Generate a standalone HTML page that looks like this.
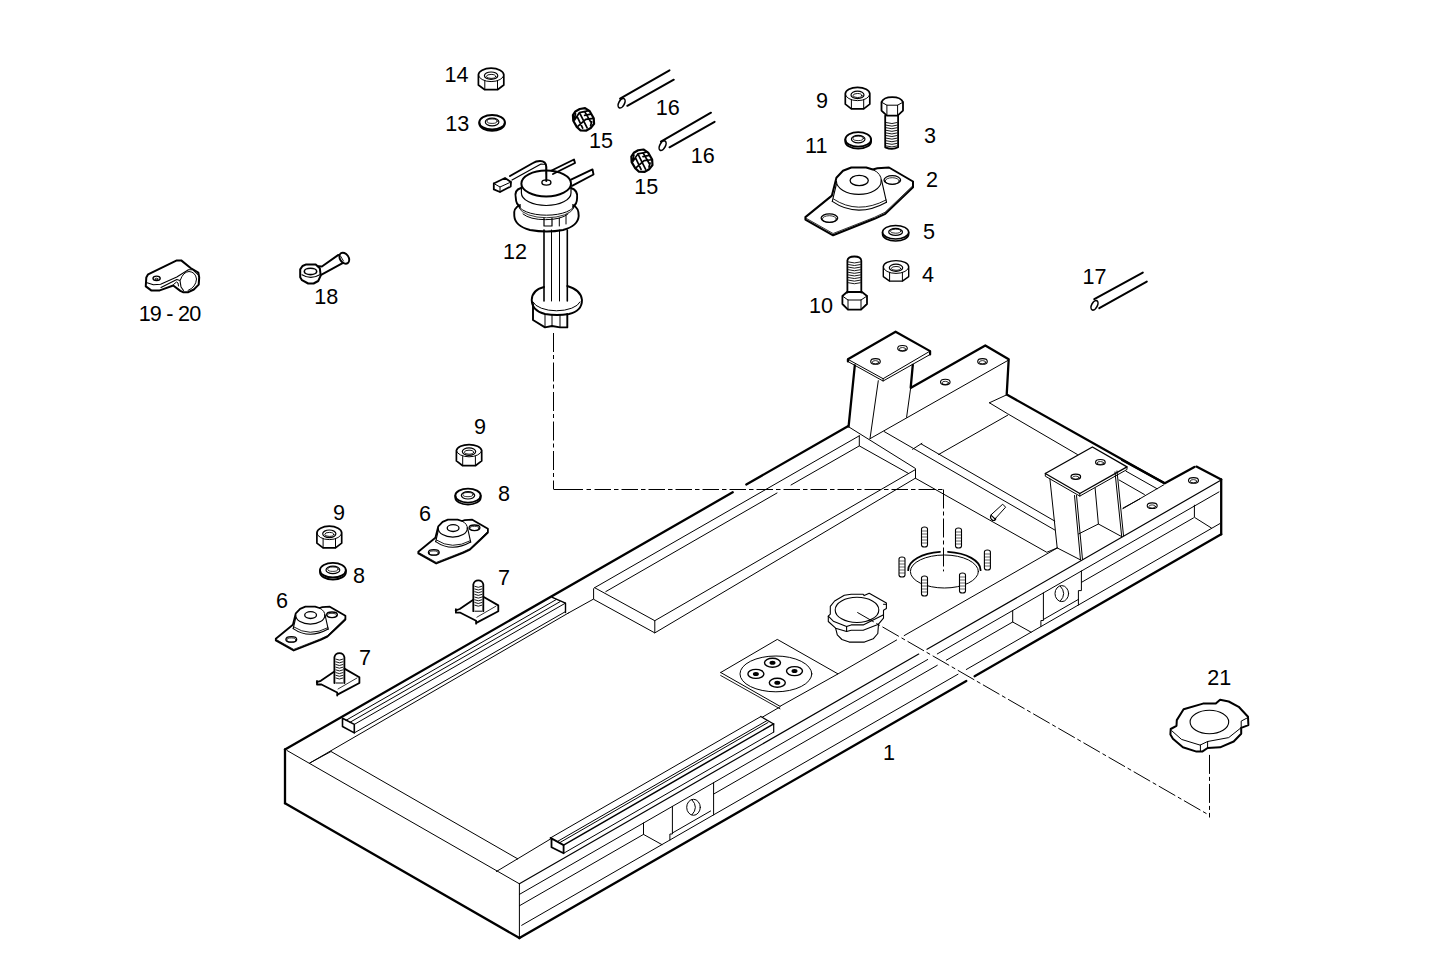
<!DOCTYPE html>
<html><head><meta charset="utf-8"><style>
html,body{margin:0;padding:0;background:#fff;}
svg{display:block;}
text{font-family:"Liberation Sans",sans-serif;font-size:21.6px;fill:#000;stroke:none;}
</style></head><body>
<svg width="1450" height="978" viewBox="0 0 1450 978">
<g fill="none" stroke="#000" stroke-linecap="round" stroke-linejoin="round">
<text x="456.5" y="81.7" text-anchor="middle">14</text>
<text x="457.2" y="130.6" text-anchor="middle">13</text>
<text x="667.7" y="115.4" text-anchor="middle">16</text>
<text x="702.8" y="162.6" text-anchor="middle">16</text>
<text x="601.1" y="147.6" text-anchor="middle">15</text>
<text x="646.2" y="194.1" text-anchor="middle">15</text>
<text x="514.9" y="258.6" text-anchor="middle">12</text>
<text x="822.0" y="108.4" text-anchor="middle">9</text>
<text x="930.0" y="142.8" text-anchor="middle">3</text>
<text x="816.2" y="152.6" text-anchor="middle">11</text>
<text x="932.0" y="187.4" text-anchor="middle">2</text>
<text x="929.1" y="238.9" text-anchor="middle">5</text>
<text x="927.9" y="281.5" text-anchor="middle">4</text>
<text x="821.1" y="312.6" text-anchor="middle">10</text>
<text x="1094.5" y="283.5" text-anchor="middle">17</text>
<text x="169.9" y="321.0" text-anchor="middle" textLength="62.5" lengthAdjust="spacing">19 - 20</text>
<text x="326.2" y="304.1" text-anchor="middle">18</text>
<text x="480.1" y="433.5" text-anchor="middle">9</text>
<text x="504.0" y="501.2" text-anchor="middle">8</text>
<text x="425.1" y="521.3" text-anchor="middle">6</text>
<text x="339.1" y="520.4" text-anchor="middle">9</text>
<text x="359.1" y="583.2" text-anchor="middle">8</text>
<text x="503.9" y="585.4" text-anchor="middle">7</text>
<text x="281.9" y="608.2" text-anchor="middle">6</text>
<text x="365.0" y="665.4" text-anchor="middle">7</text>
<text x="1219.2" y="684.6" text-anchor="middle">21</text>
<text x="889.0" y="759.6" text-anchor="middle">1</text>
<path d="M285.0 749.5 L732.7 492.3" stroke-width="2.3"/>
<path d="M746.3 484.5 L847.9 426.3" stroke-width="2.3"/>
<path d="M285.0 749.5 L285.0 803.3" stroke-width="2.3"/>
<path d="M285.0 803.3 L519.4 938.1" stroke-width="2.3"/>
<path d="M287.0 750.5 L519.4 883.8" stroke-width="1.0"/>
<path d="M519.4 883.8 L519.4 938.1" stroke-width="1.0"/>
<path d="M519.4 938.1 L966.3 681.0" stroke-width="2.3"/>
<path d="M974.6 676.2 L1221.2 534.3" stroke-width="2.3"/>
<path d="M519.4 883.8 L918.7 654.1" stroke-width="1.2"/>
<path d="M927.0 649.3 L1221.2 480.0" stroke-width="1.2"/>
<path d="M519.4 894.4 L927.7 659.5" stroke-width="1.0"/>
<path d="M937.3 653.9 L1219.0 491.9" stroke-width="1.0"/>
<path d="M519.4 905.8 L643.5 834.4" stroke-width="1.0"/>
<path d="M713.6 794.1 L937.3 665.3" stroke-width="1.0"/>
<path d="M946.3 660.2 L1012.7 622.0" stroke-width="1.0"/>
<path d="M1081.4 582.4 L1193.5 517.9" stroke-width="1.0"/>
<path d="M521.7 925.3 L958.0 674.2" stroke-width="1.0"/>
<path d="M966.3 669.5 L1219.7 523.7" stroke-width="1.0"/>
<path d="M1221.2 479.4 L1221.2 534.3" stroke-width="2.3"/>
<path d="M1122.1 460.0 L1164.8 483.3 L1194.4 467.0" stroke-width="2.3"/>
<path d="M1196.4 466.6 L1221.2 479.4" stroke-width="2.3"/>
<path d="M1194.4 505.2 L1194.4 517.3 L1211.4 528.0" stroke-width="1.0"/>
<path d="M643.5 823.0 L643.5 834.4 L661.9 844.6" stroke-width="1.0"/>
<path d="M672.4 806.4 L672.4 834.0 L669.9 834.0 L669.9 840.0" stroke-width="1.0"/>
<path d="M672.4 833.0 L710.6 811.0" stroke-width="1.0"/>
<path d="M713.6 782.7 L713.6 814.9" stroke-width="1.0"/>
<ellipse cx="693.5" cy="807.3" rx="6.8" ry="8.0" stroke-width="1.0"/>
<path d="M 692.0 799.8 Q 699.0 807.3 692.0 814.8" stroke-width="1.0"/>
<path d="M1012.7 610.6 L1012.7 622.0 L1031.1 632.2" stroke-width="1.0"/>
<path d="M1043.4 592.9 L1043.4 620.5 L1040.9 620.5 L1040.9 626.5" stroke-width="1.0"/>
<path d="M1043.4 619.5 L1078.4 599.4" stroke-width="1.0"/>
<path d="M1081.4 571.0 L1081.4 590.6 L1078.4 590.6 L1078.4 605.0" stroke-width="1.0"/>
<ellipse cx="1061.8" cy="593.6" rx="6.8" ry="8.0" stroke-width="1.0"/>
<path d="M 1060.3 586.1 Q 1067.3 593.6 1060.3 601.1" stroke-width="1.0"/>
<path d="M309.8 763.0 L331.0 751.5" stroke-width="1.0"/>
<path d="M331.0 751.5 L517.6 858.8" stroke-width="1.0"/>
<path d="M496.4 871.5 L517.6 858.8" stroke-width="1.0"/>
<path d="M517.6 858.8 L551.0 838.7" stroke-width="1.0"/>
<path d="M838.0 673.9 L896.6 640.0" stroke-width="1.0"/>
<path d="M904.2 635.6 L1056.9 548.2" stroke-width="1.0"/>
<path d="M309.8 763.0 L568.4 613.0" stroke-width="1.0"/>
<path d="M568.4 613.0 L593.1 599.3" stroke-width="1.0"/>
<path d="M342.5 718.3 L354.3 724.4 L354.3 732.9 L342.5 726.5 L342.5 718.3" stroke-width="1.6"/>
<path d="M552.3 597.4 L565.5 603.2 L565.5 612.5" stroke-width="1.4"/>
<path d="M354.3 724.4 L565.5 603.1" stroke-width="1.0"/>
<path d="M354.3 732.9 L565.5 611.6" stroke-width="1.0"/>
<path d="M346.0 720.3 L556.0 599.7" stroke-width="1.0"/>
<path d="M350.0 722.3 L560.0 601.7" stroke-width="1.0"/>
<path d="M550.5 837.9 L563.6 845.1 L563.6 853.3 L551.5 847.2 L551.5 838.5" stroke-width="1.8"/>
<path d="M550.5 837.9 L760.8 716.6" stroke-width="1.0"/>
<path d="M563.6 845.1 L773.7 723.9" stroke-width="1.5"/>
<path d="M563.6 853.3 L773.7 732.1" stroke-width="1.0"/>
<path d="M557.9 841.2 L766.6 720.8" stroke-width="1.0"/>
<path d="M559.5 842.8 L768.0 722.5" stroke-width="1.0"/>
<path d="M760.8 716.5 L773.7 723.9 L773.7 732.1" stroke-width="1.2"/>
<path d="M594.6 587.7 L654.8 620.7 L654.8 632.9 L593.6 599.3 L593.6 588.7" stroke-width="1.0"/>
<path d="M594.6 587.7 L859.3 435.8" stroke-width="1.0"/>
<path d="M848.3 426.6 L915.5 468.5 L915.5 478.3" stroke-width="1.0"/>
<path d="M859.3 435.8 L859.3 445.9 L908.6 473.5" stroke-width="1.0"/>
<path d="M654.8 620.7 L915.2 469.7" stroke-width="1.0"/>
<path d="M654.8 632.9 L915.2 478.3" stroke-width="1.0"/>
<path d="M605.8 591.6 L777.0 493.0" stroke-width="1.0"/>
<path d="M791.0 485.0 L859.3 445.9" stroke-width="1.0"/>
<path d="M847.9 361.5 L847.9 359.3 L895.6 331.7 L930.1 351.1 L930.1 354.5" stroke-width="2.2"/>
<path d="M847.9 359.3 L883.1 378.7 L930.1 351.1" stroke-width="1.0"/>
<path d="M847.9 361.5 L883.1 381.0 L930.1 354.5" stroke-width="1.0"/>
<path d="M883.1 378.7 L883.1 381.0" stroke-width="1.0"/>
<ellipse cx="875.5" cy="361.4" rx="4.8" ry="2.8" stroke-width="1.1"/>
<ellipse cx="875.5" cy="362.2" rx="3.2" ry="1.6" stroke-width="0.8"/>
<ellipse cx="902.5" cy="348.3" rx="4.8" ry="2.8" stroke-width="1.1"/>
<ellipse cx="902.5" cy="349.1" rx="3.2" ry="1.6" stroke-width="0.8"/>
<path d="M854.8 365.5 L848.6 426.3" stroke-width="2.3"/>
<path d="M878.3 380.7 L870.0 438.7" stroke-width="1.0"/>
<path d="M912.8 364.9 L910.7 387.6" stroke-width="2.3"/>
<path d="M910.7 387.6 L906.6 417.3" stroke-width="1.0"/>
<path d="M911.4 387.6 L985.3 345.5 L1008.7 359.3 L1006.7 394.5 L1164.0 482.9" stroke-width="2.3"/>
<path d="M1008.7 360.0 L870.0 438.7" stroke-width="1.0"/>
<ellipse cx="945.3" cy="382.1" rx="4.8" ry="2.8" stroke-width="1.1"/>
<ellipse cx="945.3" cy="382.9" rx="3.2" ry="1.6" stroke-width="0.8"/>
<ellipse cx="982.5" cy="361.4" rx="4.8" ry="2.8" stroke-width="1.1"/>
<ellipse cx="982.5" cy="362.2" rx="3.2" ry="1.6" stroke-width="0.8"/>
<path d="M989.4 402.8 L1007.4 394.5" stroke-width="1.0"/>
<path d="M989.4 402.8 L1007.7 413.8 L1077.4 454.5" stroke-width="1.0"/>
<path d="M938.6 454.5 L1007.7 415.2" stroke-width="1.0"/>
<path d="M1045.3 473.5 L1092.4 447.0 L1127.0 466.9 L1079.8 493.5 L1045.3 473.5" stroke-width="1.3"/>
<path d="M1045.3 473.5 L1045.3 476.2 L1079.8 496.1 L1127.0 469.5 L1127.0 466.9" stroke-width="1.0"/>
<path d="M1079.8 493.5 L1079.8 496.1" stroke-width="1.0"/>
<ellipse cx="1075.8" cy="476.8" rx="4.8" ry="2.7" stroke-width="1.2"/>
<ellipse cx="1075.8" cy="477.6" rx="3.2" ry="1.5" stroke-width="0.8"/>
<ellipse cx="1100.4" cy="462.2" rx="4.8" ry="2.7" stroke-width="1.2"/>
<ellipse cx="1100.4" cy="463.0" rx="3.2" ry="1.5" stroke-width="0.8"/>
<path d="M1049.9 478.8 L1057.2 547.9" stroke-width="1.0"/>
<path d="M1074.5 495.5 L1080.5 559.9" stroke-width="1.0"/>
<path d="M1076.5 495.5 L1082.5 559.5" stroke-width="1.0"/>
<path d="M1095.1 488.1 L1098.4 524.0" stroke-width="1.0"/>
<path d="M1115.0 472.0 L1121.7 536.6" stroke-width="1.0"/>
<path d="M1117.0 471.0 L1123.5 535.6" stroke-width="1.0"/>
<path d="M1057.2 547.9 L1080.5 559.9" stroke-width="1.0"/>
<path d="M1078.5 534.0 L1098.4 524.0 L1121.7 536.6" stroke-width="1.0"/>
<path d="M1123.0 508.1 L1140.0 498.8" stroke-width="1.0"/>
<path d="M921.3 444.0 L1054.8 521.1" stroke-width="1.0"/>
<path d="M884.2 431.6 L1054.8 530.0" stroke-width="1.0"/>
<path d="M912.6 449.3 L921.9 443.3" stroke-width="1.0"/>
<path d="M915.9 478.5 L1046.8 552.3 L1057.2 547.9" stroke-width="1.0"/>
<path d="M 991.3 514.6 L 1002.7 504.2 L 1005.6 507.2 L 995.6 518.3" stroke-width="1.0"/>
<path d="M 991.3 514.6 Q 989.5 517 991.5 519.5 Q 993.5 521.5 995.6 519.5 Q 996 518.5 995.6 518.3 M 991.8 515.8 L 995 519" stroke-width="1.1"/>
<path d="M1123.0 508.6 L1163.8 484.8" stroke-width="1.0"/>
<path d="M1119.1 480.0 L1144.4 494.5" stroke-width="1.0"/>
<path d="M1126.0 471.2 L1157.0 488.7" stroke-width="1.0"/>
<ellipse cx="1193.5" cy="480.4" rx="5.0" ry="2.8" stroke-width="1.1"/>
<ellipse cx="1193.5" cy="481.2" rx="3.3" ry="1.6" stroke-width="0.8"/>
<ellipse cx="1152.2" cy="505.7" rx="5.0" ry="2.8" stroke-width="1.1"/>
<ellipse cx="1152.2" cy="506.5" rx="3.3" ry="1.6" stroke-width="0.8"/>
<path d="M720.7 672.5 L777.3 639.4 L838.0 673.9 L780.0 706.3 L720.7 672.5" stroke-width="1.0"/>
<path d="M720.7 675.5 L780.0 708.8" stroke-width="0.9"/>
<path d="M762.3 717.2 L780.2 706.8" stroke-width="1.0"/>
<ellipse cx="775.9" cy="673.9" rx="35.9" ry="17.9" stroke-width="1.0"/>
<ellipse cx="772.5" cy="662.8" rx="8.0" ry="4.5" stroke-width="1.4"/>
<ellipse cx="772.5" cy="662.8" rx="3.0" ry="2.0" stroke-width="0" fill="#000"/>
<ellipse cx="755.9" cy="673.9" rx="8.0" ry="4.5" stroke-width="1.4"/>
<ellipse cx="755.9" cy="673.9" rx="3.0" ry="2.0" stroke-width="0" fill="#000"/>
<ellipse cx="794.5" cy="671.1" rx="8.0" ry="4.5" stroke-width="1.4"/>
<ellipse cx="794.5" cy="671.1" rx="3.0" ry="2.0" stroke-width="0" fill="#000"/>
<ellipse cx="777.3" cy="682.8" rx="8.0" ry="4.5" stroke-width="1.4"/>
<ellipse cx="777.3" cy="682.8" rx="3.0" ry="2.0" stroke-width="0" fill="#000"/>
<path d="M828.3 616.2 L830.3 614.2 L830.3 606.3 L834.6 601.0 L844.3 595.3 L851.2 594.3 L863.2 594.3 L864.2 595.6 L869.2 593.3 L886.4 602.9 L886.4 608.6 L883.5 610.2 L883.5 618.2 L878.5 624.2" stroke-width="1.1"/>
<path d="M828.3 616.2 L828.3 621.5 L835.6 628.2 L846.6 631.5 L851.2 630.2 L863.2 630.2 L878.5 624.2" stroke-width="1.1"/>
<path d="M828.3 616.2 L833.3 621.2 L846.6 626.5 L851.2 624.9 L863.2 624.9 L883.1 614.9" stroke-width="1.1"/>
<path d="M846.6 626.5 L846.6 631.5" stroke-width="1.1"/>
<path d="M883.5 604.3 L886.4 604.3" stroke-width="1.0"/>
<ellipse cx="857.0" cy="609.9" rx="21.8" ry="12.6" stroke-width="1.1"/>
<path d="M835.6 628.2 L837.3 634.8 L841.9 639.5 L849.2 642.1 L864.5 642.1 L873.2 638.8 L877.8 633.5 L878.5 624.2" stroke-width="1.1"/>
<path d="M 908.2 570.2 A 36.2 18.4 0 0 1 940 551.9" stroke-width="1.8"/>
<path d="M 948 551.9 A 36.2 18.4 0 0 1 980.6 570.2" stroke-width="1.8"/>
<ellipse cx="944.4" cy="571.5" rx="34.0" ry="16.5" stroke-width="1.0"/>
<path d="M 921.5 545.0 L 921.5 529.0 Q 921.5 527.0 924.5 527.0 Q 927.5 527.0 927.5 529.0 L 927.5 545.0 Q 927.5 547.0 924.5 547.0 Q 921.5 547.0 921.5 545.0 Z" stroke-width="1.1" fill="#fff"/>
<path d="M922.0 531.0 L927.0 531.0" stroke-width="0.6"/>
<path d="M922.0 534.0 L927.0 534.0" stroke-width="0.6"/>
<path d="M922.0 537.0 L927.0 537.0" stroke-width="0.6"/>
<path d="M922.0 540.0 L927.0 540.0" stroke-width="0.6"/>
<path d="M922.0 543.0 L927.0 543.0" stroke-width="0.6"/>
<path d="M 955.5 546.0 L 955.5 530.0 Q 955.5 528.0 958.5 528.0 Q 961.5 528.0 961.5 530.0 L 961.5 546.0 Q 961.5 548.0 958.5 548.0 Q 955.5 548.0 955.5 546.0 Z" stroke-width="1.1" fill="#fff"/>
<path d="M956.0 532.0 L961.0 532.0" stroke-width="0.6"/>
<path d="M956.0 535.0 L961.0 535.0" stroke-width="0.6"/>
<path d="M956.0 538.0 L961.0 538.0" stroke-width="0.6"/>
<path d="M956.0 541.0 L961.0 541.0" stroke-width="0.6"/>
<path d="M956.0 544.0 L961.0 544.0" stroke-width="0.6"/>
<path d="M 984.4 568.0 L 984.4 552.0 Q 984.4 550.0 987.4 550.0 Q 990.4 550.0 990.4 552.0 L 990.4 568.0 Q 990.4 570.0 987.4 570.0 Q 984.4 570.0 984.4 568.0 Z" stroke-width="1.1" fill="#fff"/>
<path d="M984.9 554.0 L989.9 554.0" stroke-width="0.6"/>
<path d="M984.9 557.0 L989.9 557.0" stroke-width="0.6"/>
<path d="M984.9 560.0 L989.9 560.0" stroke-width="0.6"/>
<path d="M984.9 563.0 L989.9 563.0" stroke-width="0.6"/>
<path d="M984.9 566.0 L989.9 566.0" stroke-width="0.6"/>
<path d="M 899.0 575.0 L 899.0 559.0 Q 899.0 557.0 902.0 557.0 Q 905.0 557.0 905.0 559.0 L 905.0 575.0 Q 905.0 577.0 902.0 577.0 Q 899.0 577.0 899.0 575.0 Z" stroke-width="1.1" fill="#fff"/>
<path d="M899.5 561.0 L904.5 561.0" stroke-width="0.6"/>
<path d="M899.5 564.0 L904.5 564.0" stroke-width="0.6"/>
<path d="M899.5 567.0 L904.5 567.0" stroke-width="0.6"/>
<path d="M899.5 570.0 L904.5 570.0" stroke-width="0.6"/>
<path d="M899.5 573.0 L904.5 573.0" stroke-width="0.6"/>
<path d="M 921.5 594.0 L 921.5 578.0 Q 921.5 576.0 924.5 576.0 Q 927.5 576.0 927.5 578.0 L 927.5 594.0 Q 927.5 596.0 924.5 596.0 Q 921.5 596.0 921.5 594.0 Z" stroke-width="1.1" fill="#fff"/>
<path d="M922.0 580.0 L927.0 580.0" stroke-width="0.6"/>
<path d="M922.0 583.0 L927.0 583.0" stroke-width="0.6"/>
<path d="M922.0 586.0 L927.0 586.0" stroke-width="0.6"/>
<path d="M922.0 589.0 L927.0 589.0" stroke-width="0.6"/>
<path d="M922.0 592.0 L927.0 592.0" stroke-width="0.6"/>
<path d="M 959.5 591.0 L 959.5 575.0 Q 959.5 573.0 962.5 573.0 Q 965.5 573.0 965.5 575.0 L 965.5 591.0 Q 965.5 593.0 962.5 593.0 Q 959.5 593.0 959.5 591.0 Z" stroke-width="1.1" fill="#fff"/>
<path d="M960.0 577.0 L965.0 577.0" stroke-width="0.6"/>
<path d="M960.0 580.0 L965.0 580.0" stroke-width="0.6"/>
<path d="M960.0 583.0 L965.0 583.0" stroke-width="0.6"/>
<path d="M960.0 586.0 L965.0 586.0" stroke-width="0.6"/>
<path d="M960.0 589.0 L965.0 589.0" stroke-width="0.6"/>
<path d="M 553.5 333 L 553.5 489.5" stroke-width="1.0" stroke-dasharray="19 3 4 3.5" stroke-linecap="butt"/>
<path d="M 554 489.5 L 943.5 489.5" stroke-width="1.0" stroke-dasharray="29 3.5 4.5 3.5 16.5 3 4.5 3 16.5 3 4.5 3 16.5 3 4.5 3 16.5 3 4.5 3 16.5 3 4.5 3 16.5 3 4.5 3 16.5 3 4.5 3 16.5 3 4.5 3 16.5 3 4.5 3 16.5 3 4.5 3 16.5 3 4.5 3 16.5 3 4.5 3 16.5 3 4.5 3 16.5 3 4.5 3 500" stroke-linecap="butt"/>
<path d="M 943.5 489.5 L 943.5 571.4" stroke-width="1.0" stroke-dasharray="19 3 4 3" stroke-linecap="butt"/>
<path d="M 857.3 612.4 L 1206.8 813.8" stroke-width="1.0" stroke-dasharray="19 3 4 3" stroke-linecap="butt"/>
<path d="M 1209.5 754.9 L 1209.5 817.5" stroke-width="1.0" stroke-dasharray="19 3 4 3" stroke-linecap="butt"/>
<path d="M1170.7 729.0 L1176.5 725.8 L1176.8 720.1 L1183.6 709.3 L1203.0 703.6 L1215.8 703.6 L1220.1 699.7 L1228.7 701.5 L1238.7 706.8 L1248.0 716.8 L1248.4 725.1 L1241.2 727.9 L1241.2 733.7 L1233.7 741.5 L1220.1 747.3 L1207.6 748.0 L1202.2 751.6 L1196.5 751.6 L1182.9 747.3 L1172.9 738.7 L1170.4 734.4 Z" stroke-width="2.0"/>
<path d="M1171.8 730.8 L1181.5 739.4 L1200.1 745.1 L1207.6 741.5 L1228.7 737.6 L1240.9 727.9" stroke-width="1.0"/>
<path d="M1200.4 745.1 L1200.4 751.6" stroke-width="1.0"/>
<path d="M1207.6 741.5 L1207.6 748.0" stroke-width="1.0"/>
<path d="M1241.2 727.9 L1241.2 721.1 L1247.3 717.9" stroke-width="1.0"/>
<ellipse cx="1209.4" cy="722.0" rx="19.3" ry="11.7" stroke-width="1.1"/>
<path d="M 478.4 74.9 A 12.7 6.7 0 0 1 503.8 74.9 L 503.8 85.0 L 497.5 89.7 L 484.8 89.7 L 478.4 85.0 Z" stroke-width="1.7"/>
<path d="M 478.4 74.9 A 12.7 6.7 0 0 0 503.8 74.9" stroke-width="1.0"/>
<path d="M484.8 80.6 L484.8 89.7" stroke-width="1.0"/>
<path d="M497.5 80.6 L497.5 89.7" stroke-width="1.0"/>
<ellipse cx="491.1" cy="75.7" rx="6.7" ry="3.7" stroke-width="1.2"/>
<ellipse cx="491.1" cy="76.4" rx="4.6" ry="2.0" stroke-width="0.9"/>
<ellipse cx="492.1" cy="122.2" rx="12.8" ry="7.2" stroke-width="1.8"/>
<path d="M 479.3 122.2 L 479.3 124.2 A 12.8 7.2 0 0 0 504.8 124.2 L 504.8 122.2" stroke-width="1.8"/>
<ellipse cx="492.1" cy="122.0" rx="6.8" ry="3.8" stroke-width="1.2"/>
<ellipse cx="492.1" cy="121.2" rx="5.1" ry="2.2" stroke-width="0.8"/>
<path d="M 456.4 450.7 A 12.7 6.7 0 0 1 481.7 450.7 L 481.7 460.9 L 475.4 465.7 L 462.7 465.7 L 456.4 460.9 Z" stroke-width="1.7"/>
<path d="M 456.4 450.7 A 12.7 6.7 0 0 0 481.7 450.7" stroke-width="1.0"/>
<path d="M462.7 456.5 L462.7 465.7" stroke-width="1.0"/>
<path d="M475.4 456.5 L475.4 465.7" stroke-width="1.0"/>
<ellipse cx="469.0" cy="451.6" rx="6.7" ry="3.8" stroke-width="1.2"/>
<ellipse cx="469.0" cy="452.2" rx="4.6" ry="2.0" stroke-width="0.9"/>
<ellipse cx="468.0" cy="495.6" rx="12.7" ry="7.0" stroke-width="1.8"/>
<path d="M 455.3 495.6 L 455.3 497.6 A 12.7 7.0 0 0 0 480.7 497.6 L 480.7 495.6" stroke-width="1.8"/>
<ellipse cx="468.0" cy="495.3" rx="6.7" ry="3.7" stroke-width="1.2"/>
<ellipse cx="468.0" cy="494.6" rx="5.1" ry="2.1" stroke-width="0.8"/>
<path d="M 316.9 532.9 A 12.4 6.7 0 0 1 341.7 532.9 L 341.7 543.1 L 335.5 547.9 L 323.1 547.9 L 316.9 543.1 Z" stroke-width="1.7"/>
<path d="M 316.9 532.9 A 12.4 6.7 0 0 0 341.7 532.9" stroke-width="1.0"/>
<path d="M323.1 538.7 L323.1 547.9" stroke-width="1.0"/>
<path d="M335.5 538.7 L335.5 547.9" stroke-width="1.0"/>
<ellipse cx="329.3" cy="533.8" rx="6.6" ry="3.8" stroke-width="1.2"/>
<ellipse cx="329.3" cy="534.4" rx="4.5" ry="2.0" stroke-width="0.9"/>
<ellipse cx="332.9" cy="570.2" rx="12.9" ry="7.3" stroke-width="1.8"/>
<path d="M 320.0 570.2 L 320.0 572.2 A 12.9 7.3 0 0 0 345.9 572.2 L 345.9 570.2" stroke-width="1.8"/>
<ellipse cx="332.9" cy="569.9" rx="6.9" ry="3.8" stroke-width="1.2"/>
<ellipse cx="332.9" cy="569.2" rx="5.2" ry="2.2" stroke-width="0.8"/>
<path d="M 845.3 94.0 A 12.2 6.6 0 0 1 869.8 94.0 L 869.8 104.1 L 863.7 108.8 L 851.4 108.8 L 845.3 104.1 Z" stroke-width="1.7"/>
<path d="M 845.3 94.0 A 12.2 6.6 0 0 0 869.8 94.0" stroke-width="1.0"/>
<path d="M851.4 99.7 L851.4 108.8" stroke-width="1.0"/>
<path d="M863.7 99.7 L863.7 108.8" stroke-width="1.0"/>
<ellipse cx="857.5" cy="94.9" rx="6.5" ry="3.7" stroke-width="1.2"/>
<ellipse cx="857.5" cy="95.5" rx="4.4" ry="2.0" stroke-width="0.9"/>
<ellipse cx="858.2" cy="139.4" rx="12.9" ry="7.3" stroke-width="1.8"/>
<path d="M 845.3 139.4 L 845.3 141.4 A 12.9 7.3 0 0 0 871.1 141.4 L 871.1 139.4" stroke-width="1.8"/>
<ellipse cx="858.2" cy="139.1" rx="6.8" ry="3.8" stroke-width="1.2"/>
<ellipse cx="858.2" cy="138.4" rx="5.2" ry="2.2" stroke-width="0.8"/>
<ellipse cx="895.6" cy="232.2" rx="13.1" ry="6.8" stroke-width="1.5"/>
<path d="M 882.5 232.2 L 882.5 234.2 A 13.1 6.8 0 0 0 908.7 234.2 L 908.7 232.2" stroke-width="1.5"/>
<ellipse cx="895.6" cy="231.9" rx="6.9" ry="3.5" stroke-width="1.2"/>
<ellipse cx="895.6" cy="231.2" rx="5.2" ry="2.0" stroke-width="0.8"/>
<path d="M 883.3 267.0 A 12.7 6.4 0 0 1 908.7 267.0 L 908.7 276.6 L 902.4 281.1 L 889.6 281.1 L 883.3 276.6 Z" stroke-width="1.4"/>
<path d="M 883.3 267.0 A 12.7 6.4 0 0 0 908.7 267.0" stroke-width="1.0"/>
<path d="M889.6 272.4 L889.6 281.1" stroke-width="1.0"/>
<path d="M902.4 272.4 L902.4 281.1" stroke-width="1.0"/>
<ellipse cx="896.0" cy="267.8" rx="6.7" ry="3.6" stroke-width="1.2"/>
<ellipse cx="896.0" cy="268.4" rx="4.6" ry="1.9" stroke-width="0.9"/>
<path d="M418.3 551.8 L435.4 537.8 L438.3 526.3 L442.6 521.8 L447.9 519.7 L457.6 519.7 L461.9 521.0 L464.8 520.2 L472.3 519.7 L487.9 528.7 L487.9 532.5 L480.1 540.0 L469.9 549.6 L463.0 552.9 L436.2 563.5 L418.3 553.4 Z" stroke-width="1.8"/>
<path d="M419.0 552.7 L436.2 562.4 L463.0 551.9 L469.8 548.7 L487.2 532.0" stroke-width="0.8"/>
<path d="M 438.3 528.4 A 14.5 8.7 0 0 0 467.3 528.4" stroke-width="1.1"/>
<path d="M 467.3 528.4 A 14.5 8.7 0 0 0 461.9 521.0" stroke-width="1.0"/>
<path d="M438.3 530.3 L435.7 541.6" stroke-width="1.1"/>
<path d="M467.5 527.7 L470.7 542.1" stroke-width="1.1"/>
<path d="M 435.7 541.6 Q 451.7 552.7 470.7 542.1" stroke-width="1.1"/>
<path d="M 436.4 540.0 Q 452.0 550.4 470.4 540.7" stroke-width="0.9"/>
<ellipse cx="453.1" cy="528.1" rx="5.9" ry="3.4" stroke-width="1.3"/>
<ellipse cx="474.5" cy="527.8" rx="5.4" ry="2.8" stroke-width="1.3"/>
<ellipse cx="474.5" cy="528.4" rx="4.5" ry="2.1" stroke-width="0.8"/>
<ellipse cx="433.8" cy="552.4" rx="5.4" ry="2.8" stroke-width="1.3"/>
<ellipse cx="433.8" cy="553.0" rx="4.5" ry="2.1" stroke-width="0.8"/>
<path d="M275.8 638.8 L292.9 624.8 L295.8 613.3 L300.1 608.8 L305.4 606.7 L315.1 606.7 L319.4 608.0 L322.3 607.2 L329.8 606.7 L345.4 615.7 L345.4 619.5 L337.6 627.0 L327.4 636.6 L320.5 639.9 L293.7 650.5 L275.8 640.4 Z" stroke-width="1.8"/>
<path d="M276.5 639.7 L293.7 649.4 L320.5 638.9 L327.3 635.7 L344.7 619.0" stroke-width="0.8"/>
<path d="M 295.8 615.4 A 14.5 8.7 0 0 0 324.8 615.4" stroke-width="1.1"/>
<path d="M 324.8 615.4 A 14.5 8.7 0 0 0 319.4 608.0" stroke-width="1.0"/>
<path d="M295.8 617.3 L293.2 628.6" stroke-width="1.1"/>
<path d="M325.0 614.7 L328.2 629.1" stroke-width="1.1"/>
<path d="M 293.2 628.6 Q 309.2 639.7 328.2 629.1" stroke-width="1.1"/>
<path d="M 293.9 627.0 Q 309.5 637.4 327.9 627.7" stroke-width="0.9"/>
<ellipse cx="310.6" cy="615.1" rx="5.9" ry="3.4" stroke-width="1.3"/>
<ellipse cx="332.0" cy="614.8" rx="5.4" ry="2.8" stroke-width="1.3"/>
<ellipse cx="332.0" cy="615.4" rx="4.5" ry="2.1" stroke-width="0.8"/>
<ellipse cx="291.3" cy="639.4" rx="5.4" ry="2.8" stroke-width="1.3"/>
<ellipse cx="291.3" cy="640.0" rx="4.5" ry="2.1" stroke-width="0.8"/>
<path d="M805.4 217.1 L831.9 195.6 L836.4 177.8 L843.0 170.8 L851.3 167.5 L866.2 167.5 L872.8 169.5 L877.4 168.3 L889.0 167.5 L913.0 181.5 L913.0 187.3 L901.0 198.9 L885.3 213.8 L874.5 218.8 L833.1 235.3 L805.4 219.6 Z" stroke-width="2.0"/>
<path d="M806.5 218.5 L833.1 233.5 L874.5 217.3 L885.0 212.3 L912.0 186.5" stroke-width="0.8"/>
<path d="M 836.4 181.0 A 22.4 13.4 0 0 0 881.2 181.0" stroke-width="1.1"/>
<path d="M 881.2 181.0 A 22.4 13.4 0 0 0 872.8 169.5" stroke-width="1.0"/>
<path d="M836.4 184.0 L832.3 201.4" stroke-width="1.1"/>
<path d="M881.5 179.9 L886.5 202.2" stroke-width="1.1"/>
<path d="M 832.3 201.4 Q 857.1 218.5 886.5 202.2" stroke-width="1.1"/>
<path d="M 833.5 199.0 Q 857.5 215.0 886.0 200.0" stroke-width="0.9"/>
<ellipse cx="859.2" cy="180.5" rx="9.1" ry="5.2" stroke-width="1.3"/>
<ellipse cx="892.3" cy="180.0" rx="8.3" ry="4.3" stroke-width="1.3"/>
<ellipse cx="892.3" cy="181.0" rx="7.0" ry="3.3" stroke-width="0.8"/>
<ellipse cx="829.4" cy="218.1" rx="8.3" ry="4.3" stroke-width="1.3"/>
<ellipse cx="829.4" cy="219.0" rx="7.0" ry="3.3" stroke-width="0.8"/>
<path d="M316.8 682.2 L320.8 680.8 L334.4 671.5" stroke-width="1.8"/>
<path d="M344.4 668.6 L359.4 677.2 L359.4 683.0 L337.9 694.4" stroke-width="1.8"/>
<path d="M317.0 681.0 L317.0 684.5 L321.5 684.5 L337.2 692.5 L337.2 695.5" stroke-width="1.8"/>
<path d="M338.0 689.0 L357.0 678.0" stroke-width="0.8"/>
<path d="M 334.4 683.0 L 334.4 657.2 Q 335.4 653.2 339.4 653.2 Q 343.4 653.2 344.4 657.2 L 344.4 683.0" stroke-width="1.8"/>
<path d="M 335.9 683.0 L 342.9 683.0" stroke-width="1.0"/>
<path d="M 335.9 659.2 Q 339.4 661.2 342.9 659.2" stroke-width="0.9"/>
<path d="M 335.9 661.9 Q 339.4 663.9 342.9 661.9" stroke-width="0.9"/>
<path d="M 335.9 664.6 Q 339.4 666.6 342.9 664.6" stroke-width="0.9"/>
<path d="M 335.9 667.3 Q 339.4 669.3 342.9 667.3" stroke-width="0.9"/>
<path d="M 335.9 670.0 Q 339.4 672.0 342.9 670.0" stroke-width="0.9"/>
<path d="M 335.9 672.7 Q 339.4 674.7 342.9 672.7" stroke-width="0.9"/>
<path d="M 335.9 675.4 Q 339.4 677.4 342.9 675.4" stroke-width="0.9"/>
<path d="M 335.9 678.1 Q 339.4 680.1 342.9 678.1" stroke-width="0.9"/>
<path d="M455.7 610.4 L459.7 609.0 L473.3 599.7" stroke-width="1.8"/>
<path d="M483.3 596.8 L498.3 605.4 L498.3 611.2 L476.8 622.6" stroke-width="1.8"/>
<path d="M455.9 609.2 L455.9 612.7 L460.4 612.7 L476.1 620.7 L476.1 623.7" stroke-width="1.8"/>
<path d="M476.9 617.2 L495.9 606.2" stroke-width="0.8"/>
<path d="M 473.3 611.2 L 473.3 584.4 Q 474.3 580.4 478.3 580.4 Q 482.3 580.4 483.3 584.4 L 483.3 611.2" stroke-width="1.8"/>
<path d="M 474.8 611.2 L 481.8 611.2" stroke-width="1.0"/>
<path d="M 474.8 586.4 Q 478.3 588.4 481.8 586.4" stroke-width="0.9"/>
<path d="M 474.8 589.1 Q 478.3 591.1 481.8 589.1" stroke-width="0.9"/>
<path d="M 474.8 591.8 Q 478.3 593.8 481.8 591.8" stroke-width="0.9"/>
<path d="M 474.8 594.5 Q 478.3 596.5 481.8 594.5" stroke-width="0.9"/>
<path d="M 474.8 597.2 Q 478.3 599.2 481.8 597.2" stroke-width="0.9"/>
<path d="M 474.8 599.9 Q 478.3 601.9 481.8 599.9" stroke-width="0.9"/>
<path d="M 474.8 602.6 Q 478.3 604.6 481.8 602.6" stroke-width="0.9"/>
<path d="M 474.8 605.3 Q 478.3 607.3 481.8 605.3" stroke-width="0.9"/>
<path d="M 881.5 102.2 Q 883.5 97.2 892.2 97.2 Q 901.0 97.2 903.0 102.2 L 903.0 110.6 L 897.6 115.6 L 886.9 115.6 L 881.5 110.6 Z" stroke-width="1.8"/>
<path d="M881.5 102.2 L886.9 105.2 L897.6 105.2 L903.0 102.2" stroke-width="1.0"/>
<path d="M886.9 105.2 L886.9 115.6" stroke-width="1.0"/>
<path d="M897.6 105.2 L897.6 115.6" stroke-width="1.0"/>
<path d="M 885.2 115.6 L 885.2 147.3 Q 892.2 150.3 898.1 147.3 L 898.1 115.6" stroke-width="1.8"/>
<path d="M 886.2 122.6 Q 892.2 124.6 897.1 122.6" stroke-width="0.9"/>
<path d="M 886.2 125.2 Q 892.2 127.2 897.1 125.2" stroke-width="0.9"/>
<path d="M 886.2 127.8 Q 892.2 129.8 897.1 127.8" stroke-width="0.9"/>
<path d="M 886.2 130.4 Q 892.2 132.4 897.1 130.4" stroke-width="0.9"/>
<path d="M 886.2 133.0 Q 892.2 135.0 897.1 133.0" stroke-width="0.9"/>
<path d="M 886.2 135.6 Q 892.2 137.6 897.1 135.6" stroke-width="0.9"/>
<path d="M 886.2 138.2 Q 892.2 140.2 897.1 138.2" stroke-width="0.9"/>
<path d="M 886.2 140.8 Q 892.2 142.8 897.1 140.8" stroke-width="0.9"/>
<path d="M 886.2 143.4 Q 892.2 145.4 897.1 143.4" stroke-width="0.9"/>
<path d="M 886.2 146.0 Q 892.2 148.0 897.1 146.0" stroke-width="0.9"/>
<path d="M 847.4 292.5 L 847.4 260.5 Q 848 256.5 854.4 256.5 Q 860.8 256.5 861.3 260.5 L 861.3 292.5" stroke-width="1.8"/>
<path d="M 848.5 262.0 Q 854.4 264.0 860.3 262.0" stroke-width="0.9"/>
<path d="M 848.5 264.6 Q 854.4 266.6 860.3 264.6" stroke-width="0.9"/>
<path d="M 848.5 267.2 Q 854.4 269.2 860.3 267.2" stroke-width="0.9"/>
<path d="M 848.5 269.8 Q 854.4 271.8 860.3 269.8" stroke-width="0.9"/>
<path d="M 848.5 272.4 Q 854.4 274.4 860.3 272.4" stroke-width="0.9"/>
<path d="M 848.5 275.0 Q 854.4 277.0 860.3 275.0" stroke-width="0.9"/>
<path d="M 848.5 277.6 Q 854.4 279.6 860.3 277.6" stroke-width="0.9"/>
<path d="M 848.5 280.2 Q 854.4 282.2 860.3 280.2" stroke-width="0.9"/>
<path d="M 848.5 282.8 Q 854.4 284.8 860.3 282.8" stroke-width="0.9"/>
<path d="M 842.4 296 L 847 292 L 862 292 L 867 296 L 867 304 L 861 309.7 L 848 309.7 L 842.4 304 Z" stroke-width="1.8"/>
<path d="M842.4 296.0 L848.0 300.0 L861.0 300.0 L867.0 296.0" stroke-width="1.0"/>
<path d="M848.0 300.0 L848.0 309.7" stroke-width="1.0"/>
<path d="M861.0 300.0 L861.0 309.7" stroke-width="1.0"/>
<path d="M620.1 98.6 L669.5 70.3" stroke-width="2.0"/>
<path d="M627.3 105.8 L673.8 79.7" stroke-width="2.0"/>
<ellipse cx="621.6" cy="103.2" rx="2.8" ry="5.2" transform="rotate(28 621.6 103.2)" stroke-width="1.6"/>
<path d="M660.9 141.6 L711.0 112.7" stroke-width="2.0"/>
<path d="M669.5 147.3 L714.6 121.8" stroke-width="2.0"/>
<ellipse cx="662.6" cy="145.6" rx="2.8" ry="5.2" transform="rotate(28 662.6 145.6)" stroke-width="1.6"/>
<path d="M1094.3 299.2 L1142.8 272.6" stroke-width="2.0"/>
<path d="M1099.3 308.2 L1146.8 281.6" stroke-width="2.0"/>
<ellipse cx="1094.5" cy="305.3" rx="2.8" ry="5.2" transform="rotate(28 1094.5 305.3)" stroke-width="1.6"/>
<g transform="translate(583.5 119.5) rotate(60)"><path d="M -11 -2 L -9 -7 L -4 -9.5 L 4 -9.5 L 9 -7 L 11 -2 L 11 3 L 8 8 L 3 9.5 L -4 9.5 L -9 7 L -11 3 Z" stroke-width="2.2"/><path d="M -5 -9 L -8 0 L -4 8 M 4 -9 L 1 -2 L 3 8 M -8 0 L 9 1 M -1 -9 L -3 -3 M 6 -6 L 9 -3 M -9 4 L -5 8 M -6 -5 L 6 -5 M -6 4 L 7 5" stroke-width="1.7"/></g>
<g transform="translate(641.9 160.8) rotate(60)"><path d="M -11 -2 L -9 -7 L -4 -9.5 L 4 -9.5 L 9 -7 L 11 -2 L 11 3 L 8 8 L 3 9.5 L -4 9.5 L -9 7 L -11 3 Z" stroke-width="2.2"/><path d="M -5 -9 L -8 0 L -4 8 M 4 -9 L 1 -2 L 3 8 M -8 0 L 9 1 M -1 -9 L -3 -3 M 6 -6 L 9 -3 M -9 4 L -5 8 M -6 -5 L 6 -5 M -6 4 L 7 5" stroke-width="1.7"/></g>
<ellipse cx="546.2" cy="183.5" rx="24.8" ry="13.0" stroke-width="1.9"/>
<path d="M 521.4 183.5 L 521.4 193 A 24.8 12.5 0 0 0 571 193 L 571 183.5" stroke-width="1.2"/>
<path d="M 521 188 Q 514 190 515.8 198 Q 516 204 520 207" stroke-width="1.9"/>
<path d="M 571 188 Q 578 190 577.1 198 Q 577 204 573 207" stroke-width="1.9"/>
<path d="M 520 205 Q 513 208 514.3 216 Q 515 226 530 230 Q 547 233 563 230 Q 578 226 578.7 216 Q 579 208 573 205" stroke-width="1.9"/>
<path d="M 518 204 A 28 11 0 0 0 575 204" stroke-width="1.0"/>
<path d="M 519 208 A 28 12 0 0 0 574 208" stroke-width="0.8"/>
<path d="M 523 214 A 25 10 0 0 0 568 214" stroke-width="1.0"/>
<path d="M544.0 218.0 L544.0 226.0 L552.0 226.0 L552.0 218.0" stroke-width="1.2"/>
<path d="M559.3 218.0 L559.3 226.0" stroke-width="1.0"/>
<path d="M566.0 215.0 L566.0 224.0" stroke-width="1.0"/>
<path d="M 546.3 181 L 546.3 167 Q 546 161 540 161 Q 536 161 533 163 L 510 176" stroke-width="2.0"/>
<path d="M 546.3 174 L 546.3 166 Q 546 164 541 164 L 512 180" stroke-width="1.2"/>
<ellipse cx="546.4" cy="182.5" rx="4.5" ry="2.6" stroke-width="1.4"/>
<path d="M493.8 183.5 L505.0 178.0 L511.0 182.0 L510.7 186.5 L500.0 192.0 L493.8 189.4 L493.8 183.5" stroke-width="1.8"/>
<path d="M493.8 183.5 L500.0 187.0 L511.0 182.0" stroke-width="1.0"/>
<path d="M500.0 187.0 L500.0 192.0" stroke-width="1.0"/>
<path d="M551.6 170.5 L574.0 159.5 L575.0 163.0 L553.0 174.0" stroke-width="1.9"/>
<path d="M571.0 179.7 L592.5 169.4 L593.5 174.5 L572.0 185.8" stroke-width="1.9"/>
<path d="M544.0 230.0 L544.0 301.0" stroke-width="1.6"/>
<path d="M551.5 230.0 L551.5 301.0" stroke-width="1.0"/>
<path d="M559.5 230.0 L559.5 301.0" stroke-width="1.0"/>
<path d="M567.3 230.0 L567.3 301.0" stroke-width="1.6"/>
<path d="M 544 287 Q 532 290 531.7 300 Q 532 311 545 314 Q 557 316 569 314 Q 582 311 582 300 Q 581 290 567.3 286" stroke-width="1.9"/>
<path d="M 533 302 A 24 11 0 0 0 580 302" stroke-width="1.0"/>
<path d="M 533 304 L 533 320 L 545 327.4 L 552 326 L 560 327.4 L 567.3 327.4 L 567.3 314" stroke-width="1.9"/>
<path d="M545.0 314.0 L545.0 327.0" stroke-width="1.0"/>
<path d="M552.0 315.0 L552.0 326.0" stroke-width="1.0"/>
<path d="M560.0 315.0 L560.0 327.0" stroke-width="1.0"/>
<path d="M145.8 285.5 L146.3 277.4 L148.1 274.3 L176.8 260.4 L181.2 260.4 L190.6 268.0 L198.3 272.5 L199.2 277.4 L198.7 284.6 L193.8 289.5 L188.4 292.2 L183.0 292.2 L180.3 290.9 L173.2 285.5 L163.3 289.1 L159.7 290.4 L151.2 290.4 L145.8 286.4 Z" stroke-width="2.0"/>
<path d="M147.0 282.8 L153.4 284.8 L160.6 284.2 L176.8 277.0 L188.4 269.8 L192.9 269.8 L197.8 274.3" stroke-width="1.1"/>
<path d="M161.0 287.5 L176.8 279.5 L180.0 280.5 L181.0 287.0 L183.5 290.5" stroke-width="1.1"/>
<path d="M 180.3 280.1 Q 183 272 189 271.5 Q 195.5 272 196.5 279 Q 196 287 188 290.5" stroke-width="1.0"/>
<path d="M173.5 284.5 L176.5 282.0 L178.0 283.0 L178.5 286.0" stroke-width="1.0"/>
<ellipse cx="156.6" cy="278.3" rx="3.6" ry="2.2" stroke-width="1.4"/>
<ellipse cx="156.4" cy="279.0" rx="1.4" ry="0.8" stroke-width="0.9"/>
<path d="M300.2 269.4 L302.5 266.0 L306.2 264.4 L315.7 264.4 L319.8 268.2 L320.7 275.6 L318.2 281.0 L313.6 283.5 L308.2 283.5 L302.0 280.2 L300.2 277.3 L300.2 269.4" stroke-width="2.0"/>
<ellipse cx="310.5" cy="271.4" rx="6.2" ry="3.2" stroke-width="1.6"/>
<path d="M 302 274.8 Q 310.7 280 319.8 274.8" stroke-width="1.1"/>
<path d="M318.2 266.1 L321.9 266.5 L338.4 254.9" stroke-width="1.9"/>
<path d="M321.1 274.8 L342.6 263.2" stroke-width="1.9"/>
<ellipse cx="344.3" cy="258.2" rx="4.3" ry="6" transform="rotate(-35 344.3 258.2)" stroke-width="1.9"/>
<path d="M340.5 256.0 L343.5 261.0" stroke-width="0.9"/>
</g></svg></body></html>
